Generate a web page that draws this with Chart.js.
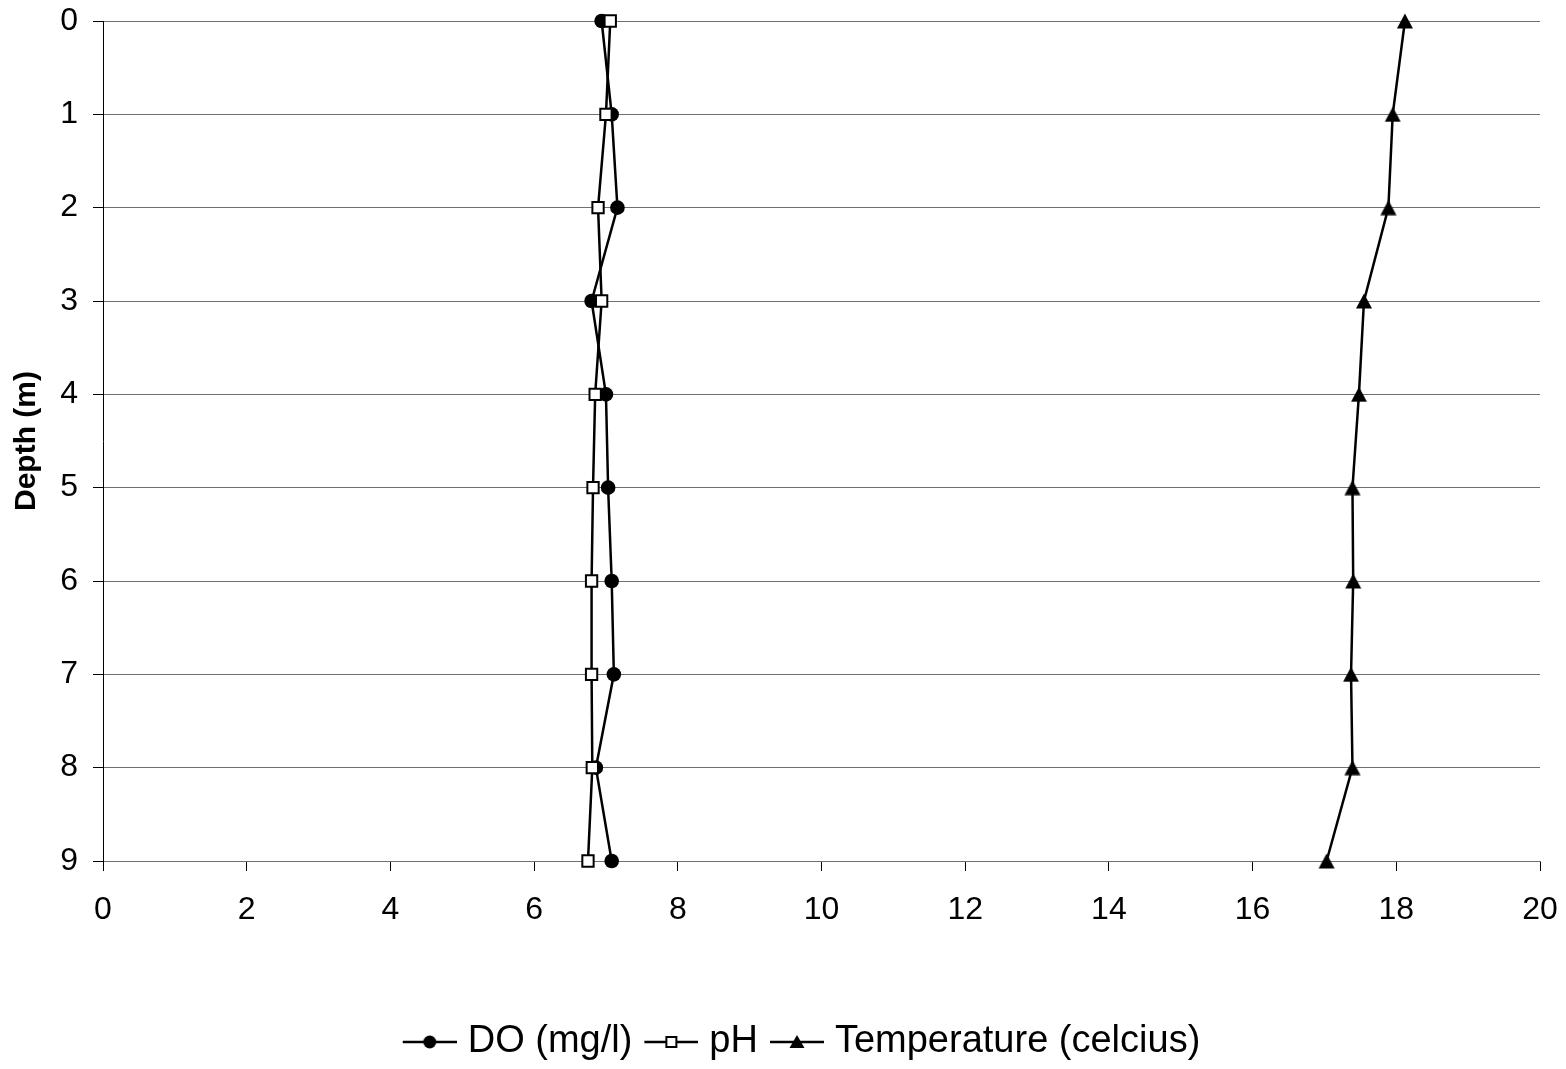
<!DOCTYPE html>
<html>
<head>
<meta charset="utf-8">
<script src="https://cdn.jsdelivr.net/npm/chart.js@4.4.0/dist/chart.umd.min.js"></script>
<style>
  body { margin: 0; background: #fff; }
  #wrap { width: 1566px; height: 1069px; }
</style>
</head>
<body>
<div id="wrap"><canvas id="profile-chart" width="1566" height="1069"></canvas></div>
<script>
// depth profile readings
const depths = [0, 1, 2, 3, 4, 5, 6, 7, 8, 9];
const doValues = [6.94, 7.08, 7.16, 6.80, 7.00, 7.03, 7.08, 7.11, 6.86, 7.08];
const phValues = [7.06, 7.00, 6.89, 6.94, 6.85, 6.82, 6.80, 6.80, 6.81, 6.75];
const tempValues = [18.12, 17.95, 17.89, 17.55, 17.48, 17.39, 17.40, 17.37, 17.39, 17.03];
const seriesLabels = ['DO (mg/l)', 'pH', 'Temperature (celcius)'];
const xTicks = [0, 2, 4, 6, 8, 10, 12, 14, 16, 18, 20];

const FONT = '"Liberation Sans", Arial, sans-serif';

function toPoints(values) {
    return values.map((v, i) => ({ x: v, y: depths[i] }));
}

// excel style triangle, centred on its box rather than its centroid
function triangleMarker() {
    const c = document.createElement('canvas');
    c.width = 18;
    c.height = 16;
    const ctx = c.getContext('2d');
    ctx.fillStyle = '#000';
    ctx.beginPath();
    ctx.moveTo(9, 0.5);
    ctx.lineTo(17, 15.5);
    ctx.lineTo(1, 15.5);
    ctx.closePath();
    ctx.fill();
    return c;
}

// small icon for the legend: line with the marker on it
// (line sits on the right part so the text gap matches)
function legendIcon(style) {
    const c = document.createElement('canvas');
    c.width = 62;
    c.height = 20;
    const ctx = c.getContext('2d');
    ctx.strokeStyle = '#000';
    ctx.lineWidth = 2.5;
    ctx.beginPath();
    ctx.moveTo(8, 10);
    ctx.lineTo(62, 10);
    ctx.stroke();
    ctx.fillStyle = '#000';
    const cx = 35;
    if (style === 'circle') {
        ctx.beginPath();
        ctx.arc(cx, 10, 6.5, 0, Math.PI * 2);
        ctx.fill();
    } else if (style === 'rect') {
        ctx.fillStyle = '#fff';
        ctx.lineWidth = 2;
        ctx.fillRect(cx - 5, 5, 10, 10);
        ctx.strokeRect(cx - 5, 5, 10, 10);
    } else {
        ctx.beginPath();
        ctx.moveTo(cx, 3);
        ctx.lineTo(cx + 7.5, 16);
        ctx.lineTo(cx - 7.5, 16);
        ctx.closePath();
        ctx.fill();
    }
    return c;
}

const markerStyles = ['circle', 'rect', 'triangle'];

// legend in the original sits a bit left of the plot centre
const legendShift = {
    id: 'legendShift',
    afterLayout(chart) {
        chart.legend.left -= 40;
    },
};

const ctx = document.getElementById('profile-chart').getContext('2d');
const profileChart = new Chart(ctx, {
    type: 'scatter',
    data: {
        datasets: [
            {
                label: seriesLabels[0],
                data: toPoints(doValues),
                showLine: true,
                clip: false,
                borderColor: '#000',
                borderWidth: 2.5,
                pointStyle: 'circle',
                pointRadius: 7.3,
                pointBackgroundColor: '#000',
                pointBorderColor: '#000',
                pointBorderWidth: 0,
                order: 3,
            },
            {
                label: seriesLabels[1],
                data: toPoints(phValues),
                showLine: true,
                clip: false,
                borderColor: '#000',
                borderWidth: 2.5,
                pointStyle: 'rect',
                pointRadius: 8,
                pointBackgroundColor: '#fff',
                pointBorderColor: '#000',
                pointBorderWidth: 2,
                order: 2,
            },
            {
                label: seriesLabels[2],
                data: toPoints(tempValues),
                showLine: true,
                clip: false,
                borderColor: '#000',
                borderWidth: 2.5,
                pointStyle: triangleMarker(),
                pointRadius: 9,
                order: 1,
            },
        ],
    },
    options: {
        responsive: false,
        animation: false,
        layout: {
            autoPadding: false,
            padding: { top: 21, right: 26, bottom: -2, left: 0 },
        },
        scales: {
            x: {
                type: 'linear',
                min: 0,
                max: 20,
                afterBuildTicks: scale => {
                    scale.ticks = xTicks.map(v => ({ value: v }));
                },
                afterFit: scale => {
                    scale.height = 150;
                    scale.paddingRight = 0;
                },
                grid: {
                    drawOnChartArea: false,
                    drawTicks: true,
                    tickLength: 10,
                    tickColor: '#000',
                    tickWidth: 1,
                },
                border: { color: '#707070', width: 1 },
                ticks: {
                    color: '#000',
                    padding: 20,
                    maxRotation: 0,
                    font: { family: FONT, size: 32 },
                },
            },
            y: {
                type: 'linear',
                reverse: true,
                min: 0,
                max: 9,
                afterFit: scale => {
                    scale.width = 103;
                    scale.paddingTop = 0;
                    scale.paddingBottom = 0;
                },
                grid: {
                    color: '#707070',
                    lineWidth: 1,
                    drawTicks: true,
                    tickLength: 10,
                    tickColor: '#000',
                    tickWidth: 1,
                },
                border: { color: '#000', width: 1 },
                ticks: {
                    stepSize: 1,
                    color: '#000',
                    padding: 15,
                    font: { family: FONT, size: 32 },
                },
                title: {
                    display: true,
                    text: 'Depth (m)',
                    color: '#000',
                    padding: { top: 9, bottom: 0 },
                    font: { family: FONT, size: 30, weight: 'bold' },
                },
            },
        },
        plugins: {
            tooltip: { enabled: false },
            legend: {
                position: 'bottom',
                fullSize: false,
                labels: {
                    usePointStyle: true,
                    pointStyleWidth: 46,
                    padding: 12,
                    color: '#000',
                    font: { family: FONT, size: 38 },
                    generateLabels: chart => chart.data.datasets.map((ds, i) => ({
                        text: ds.label,
                        pointStyle: legendIcon(markerStyles[i]),
                        fillStyle: '#000',
                        strokeStyle: '#000',
                        lineWidth: 0,
                        fontColor: '#000',
                        hidden: false,
                        datasetIndex: i,
                    })),
                },
            },
        },
    },
    plugins: [legendShift],
});
</script>
</body>
</html>
